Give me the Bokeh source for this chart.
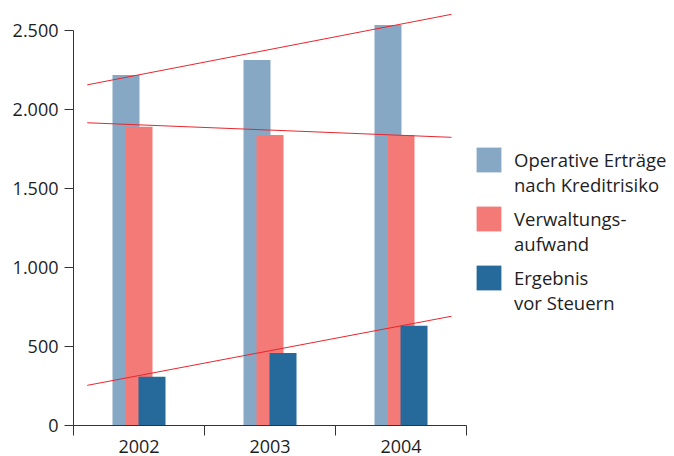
from bokeh.plotting import figure
from bokeh.models import Range1d, FixedTicker, Legend, LegendItem
from bokeh.embed import file_html
from bokeh.resources import INLINE

# ---- data ----
years = ["2002", "2003", "2004"]
operative = [2217, 2312, 2534]
verwaltung = [1890, 1838, 1838]
ergebnis = [309, 459, 631]
series_names = ["Operative Erträge\nnach Kreditrisiko", "Verwaltungs-\naufwand", "Ergebnis\nvor Steuern"]
colors = ["#86A8C4", "#F37A77", "#26699B"]
trend_start = [2155, 1915, 254]
trend_end = [2601, 1823, 691]
y_ticks = [0, 500, 1000, 1500, 2000, 2500]
y_tick_labels = ["0", "500", "1.000", "1.500", "2.000", "2.500"]

FONT = "Open Sans"
TEXT = "#1e1e1e"
W, H = 674, 456
LEFT, BOTTOM = 73, 31
CAT_PX = 131.0
Y_PX_PER_UNIT = 395.2 / 2500.0

frame_w = W - LEFT
frame_h = H - BOTTOM

p = figure(width=W, height=H, output_backend="svg", toolbar_location=None,
           x_range=Range1d(0, frame_w / CAT_PX), y_range=Range1d(0, frame_h / Y_PX_PER_UNIT),
           min_border_left=LEFT, min_border_bottom=BOTTOM, min_border_top=0, min_border_right=0)
p.outline_line_color = None
p.grid.visible = False
p.background_fill_color = "white"
p.border_fill_color = "white"

n = len(years)
centers = [i + 0.5 for i in range(n)]
off = 13.0 / CAT_PX
bw = 27.0 / CAT_PX

series = [operative, verwaltung, ergebnis]
renderers = []
for k, (vals, col) in enumerate(zip(series, colors)):
    xs = [c + (k - 1) * off for c in centers]
    r = p.vbar(x=xs, top=vals, width=bw, bottom=0, fill_color=col, line_color=None)
    renderers.append(r)

# trend lines
x0 = centers[0] - 0.395
x1 = centers[-1] + 0.385
p.segment(x0=[x0] * 3, y0=trend_start, x1=[x1] * 3, y1=trend_end,
          line_color="#E8262E", line_width=1)

# x axis
xa = p.xaxis[0]
xa.ticker = FixedTicker(ticks=centers, minor_ticks=[float(i) for i in range(n + 1)])
xa.major_label_overrides = {c: y for c, y in zip(centers, years)}
xa.bounds = (0, n)
xa.major_tick_out = 0
xa.major_tick_in = 0
xa.minor_tick_out = 10
xa.minor_tick_in = 0
xa.minor_tick_line_color = "#333333"
xa.axis_line_color = "#333333"
xa.major_label_standoff = 4
xa.major_label_text_font = FONT
xa.major_label_text_font_size = "18px"
xa.major_label_text_color = TEXT

# y axis
ya = p.yaxis[0]
ya.ticker = FixedTicker(ticks=y_ticks)
ya.major_label_overrides = {t: l for t, l in zip(y_ticks, y_tick_labels)}
ya.bounds = (0, y_ticks[-1])
ya.major_tick_out = 9
ya.major_tick_in = 0
ya.minor_tick_line_color = None
ya.major_tick_line_color = "#333333"
ya.axis_line_color = "#333333"
ya.major_label_standoff = 6
ya.major_label_text_font = FONT
ya.major_label_text_font_size = "18px"
ya.major_label_text_color = TEXT

# legend: first label line sits level with the swatch centre, second line hangs below
first_lines = [s.split("\n")[0] for s in series_names]
second_lines = [s.split("\n")[1] for s in series_names]
common = dict(glyph_width=31, glyph_height=31, label_standoff=10, padding=0, margin=0,
              spacing=28, border_line_color=None, background_fill_alpha=0,
              label_text_font=FONT, label_text_font_size="18.5px", label_text_color=TEXT)
legend_a = Legend(items=[LegendItem(label=t, renderers=[r]) for t, r in zip(first_lines, renderers)],
                  location=(400, 132.5), **common)
blank = p.vbar(x=[], top=[], width=bw, fill_alpha=0, line_alpha=0)
legend_b = Legend(items=[LegendItem(label=t, renderers=[blank]) for t in second_lines],
                  location=(400, 107.2), **common)
p.add_layout(legend_a)
p.add_layout(legend_b)

open("out.html", "w").write(file_html(p, INLINE))
